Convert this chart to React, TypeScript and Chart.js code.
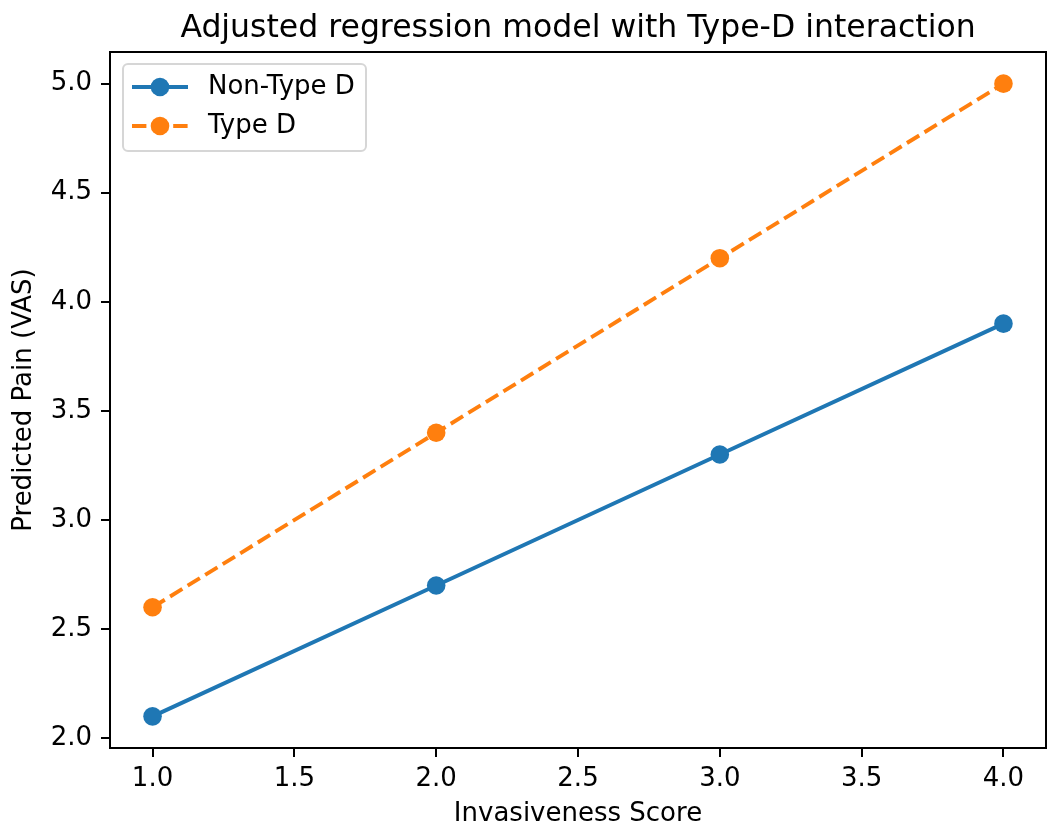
import React, { useEffect, useRef } from 'react';
import { Chart, ChartConfiguration, Plugin, registerables } from 'chart.js';

Chart.register(...registerables);

const invasiveness = [1, 2, 3, 4];
const nonTypeD = [2.1, 2.7, 3.3, 3.9];
const typeD = [2.6, 3.4, 4.2, 5.0];
const xTicks = [1.0, 1.5, 2.0, 2.5, 3.0, 3.5, 4.0];
const yTicks = [2.0, 2.5, 3.0, 3.5, 4.0, 4.5, 5.0];

const BLUE = '#1f77b4';
const ORANGE = '#ff7f0e';
const FONT = "'DejaVu Sans', sans-serif";
const MARKER = 9.3;

// title, frame and in-plot legend, matplotlib style
const decorations: Plugin<'line'> = {
  id: 'decorations',
  afterDraw(chart) {
    const { ctx, chartArea } = chart;
    ctx.save();

    ctx.strokeStyle = '#000';
    ctx.lineWidth = 2;
    ctx.strokeRect(chartArea.left, chartArea.top, chartArea.right - chartArea.left, chartArea.bottom - chartArea.top);

    ctx.fillStyle = '#000';
    ctx.font = `31.5px ${FONT}`;
    ctx.textAlign = 'center';
    ctx.textBaseline = 'alphabetic';
    ctx.fillText('Adjusted regression model with Type-D interaction', (chartArea.left + chartArea.right) / 2, 37);

    // legend box
    const bx = chartArea.left + 13;
    const by = chartArea.top + 12;
    const bw = 243;
    const bh = 87;
    ctx.beginPath();
    ctx.roundRect(bx, by, bw, bh, 5);
    ctx.fillStyle = 'rgba(255,255,255,0.8)';
    ctx.fill();
    ctx.strokeStyle = '#d6d6d6';
    ctx.lineWidth = 2;
    ctx.stroke();

    const rows = [
      { label: 'Non-Type D', color: BLUE, dash: [] as number[], y: by + 23 },
      { label: 'Type D', color: ORANGE, dash: [14.4, 6.2], y: by + 62 },
    ];
    rows.forEach((r) => {
      ctx.strokeStyle = r.color;
      ctx.lineWidth = 3.9;
      ctx.setLineDash(r.dash);
      ctx.beginPath();
      ctx.moveTo(bx + 9, r.y);
      ctx.lineTo(bx + 65, r.y);
      ctx.stroke();
      ctx.setLineDash([]);
      ctx.fillStyle = r.color;
      ctx.beginPath();
      ctx.arc(bx + 37, r.y, MARKER, 0, Math.PI * 2);
      ctx.fill();
      ctx.fillStyle = '#000';
      ctx.font = `26px ${FONT}`;
      ctx.textAlign = 'left';
      ctx.textBaseline = 'middle';
      ctx.fillText(r.label, bx + 85, r.y);
    });

    ctx.restore();
  },
};

export default function App() {
  const canvasRef = useRef<HTMLCanvasElement>(null);

  useEffect(() => {
    if (!canvasRef.current) return;

    const config: ChartConfiguration<'line'> = {
      type: 'line',
      data: {
        datasets: [
          {
            label: 'Non-Type D',
            data: invasiveness.map((x, i) => ({ x, y: nonTypeD[i] })),
            borderColor: BLUE,
            backgroundColor: BLUE,
            borderWidth: 3.9,
            pointRadius: MARKER,
            pointHoverRadius: MARKER,
            pointBorderWidth: 0,
            tension: 0,
          },
          {
            label: 'Type D',
            data: invasiveness.map((x, i) => ({ x, y: typeD[i] })),
            borderColor: ORANGE,
            backgroundColor: ORANGE,
            borderWidth: 3.9,
            borderDash: [14.4, 6.2],
            pointRadius: MARKER,
            pointHoverRadius: MARKER,
            pointBorderWidth: 0,
            tension: 0,
          },
        ],
      },
      options: {
        responsive: false,
        animation: false,
        layout: { padding: { top: 52, right: 10, left: 0, bottom: 0 } },
        scales: {
          x: {
            type: 'linear',
            min: 0.85,
            max: 4.15,
            afterBuildTicks: (scale) => {
              scale.ticks = xTicks.map((v) => ({ value: v }));
            },
            afterFit: (scale) => {
              scale.height = 88;
            },
            grid: { drawOnChartArea: false, drawTicks: true, tickLength: 9, color: '#000', lineWidth: 2 },
            border: { display: true, color: '#000', width: 2 },
            ticks: {
              color: '#000',
              padding: 7,
              maxRotation: 0,
              font: { family: FONT, size: 26 },
              callback: (v) => Number(v).toFixed(1),
            },
            title: {
              display: true,
              text: 'Invasiveness Score',
              color: '#000',
              font: { family: FONT, size: 26 },
              padding: { top: 0, bottom: 6 },
            },
          },
          y: {
            type: 'linear',
            min: 1.955,
            max: 5.145,
            afterBuildTicks: (scale) => {
              scale.ticks = yTicks.map((v) => ({ value: v }));
            },
            afterFit: (scale) => {
              scale.width = 110;
            },
            grid: { drawOnChartArea: false, drawTicks: true, tickLength: 9, color: '#000', lineWidth: 2 },
            border: { display: true, color: '#000', width: 2 },
            ticks: {
              color: '#000',
              padding: 9,
              font: { family: FONT, size: 26 },
              callback: (v) => Number(v).toFixed(1),
            },
            title: {
              display: true,
              text: 'Predicted Pain (VAS)',
              color: '#000',
              font: { family: FONT, size: 26 },
              padding: { top: 9, bottom: 0 },
            },
          },
        },
        plugins: {
          legend: { display: false },
          title: { display: false },
          tooltip: { enabled: false },
        },
      },
      plugins: [decorations],
    };

    const chart = new Chart(canvasRef.current, config);
    return () => {
      chart.destroy();
    };
  }, []);

  return (
    <div style={{ position: 'fixed', left: 0, top: 0, width: 1056, height: 836, background: '#fff' }}>
      <canvas ref={canvasRef} width={1056} height={836} />
    </div>
  );
}
